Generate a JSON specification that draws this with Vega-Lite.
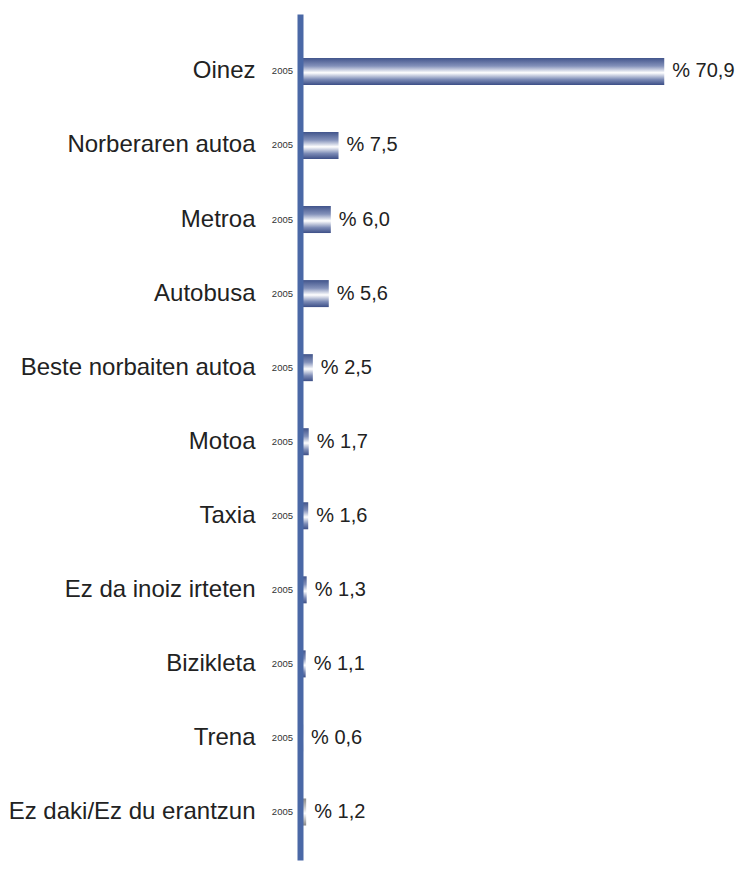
{
  "$schema": "https://vega.github.io/schema/vega-lite/v6.json",
  "autosize": {"type": "none"},
  "padding": {"left": 300, "top": 14, "right": 26, "bottom": 11},
  "width": 411,
  "height": 846,
  "background": "#ffffff",
  "config": {
    "view": {"stroke": null},
    "font": "Liberation Sans",
    "text": {"font": "Liberation Sans"}
  },
  "data": {
    "values": [
      {"cat": "Oinez", "value": 70.9, "label": "% 70,9", "year": "2005"},
      {"cat": "Norberaren autoa", "value": 7.5, "label": "% 7,5", "year": "2005"},
      {"cat": "Metroa", "value": 6.0, "label": "% 6,0", "year": "2005"},
      {"cat": "Autobusa", "value": 5.6, "label": "% 5,6", "year": "2005"},
      {"cat": "Beste norbaiten autoa", "value": 2.5, "label": "% 2,5", "year": "2005"},
      {"cat": "Motoa", "value": 1.7, "label": "% 1,7", "year": "2005"},
      {"cat": "Taxia", "value": 1.6, "label": "% 1,6", "year": "2005"},
      {"cat": "Ez da inoiz irteten", "value": 1.3, "label": "% 1,3", "year": "2005"},
      {"cat": "Bizikleta", "value": 1.1, "label": "% 1,1", "year": "2005"},
      {"cat": "Trena", "value": 0.6, "label": "% 0,6", "year": "2005"},
      {"cat": "Ez daki/Ez du erantzun", "value": 1.2, "label": "% 1,2", "year": "2005"}
    ]
  },
  "encoding": {
    "y": {
      "field": "cat",
      "type": "nominal",
      "sort": null,
      "scale": {"paddingInner": 0.635, "paddingOuter": 0.529, "align": 0.56},
      "axis": {
        "title": null,
        "ticks": false,
        "domain": true,
        "domainColor": "#4a68a6",
        "domainWidth": 6,
        "labelFontSize": 24,
        "labelColor": "#222222",
        "labelFont": "Liberation Sans",
        "labelPadding": 45,
        "labelLimit": 400,
        "grid": false,
        "zindex": 1
      }
    }
  },
  "layer": [
    {
      "mark": {"type": "bar"},
      "encoding": {
        "x": {"field": "value", "type": "quantitative", "scale": {"domain": [0, 80], "nice": false}, "axis": null},
        "fill": {
          "condition": {
            "test": "datum.cat === 'Ez daki/Ez du erantzun'",
            "value": {
              "gradient": "linear", "x1": 0, "y1": 0, "x2": 0, "y2": 1,
              "stops": [
                {"offset": 0, "color": "#8a8a8a"},
                {"offset": 0.3, "color": "#c4c4c4"},
                {"offset": 0.55, "color": "#ffffff"},
                {"offset": 0.8, "color": "#bdbdbd"},
                {"offset": 1, "color": "#858585"}
              ]
            }
          },
          "value": {
            "gradient": "linear", "x1": 0, "y1": 0, "x2": 0, "y2": 1,
            "stops": [
              {"offset": 0, "color": "#41548b"},
              {"offset": 0.3, "color": "#8391ba"},
              {"offset": 0.55, "color": "#ffffff"},
              {"offset": 0.8, "color": "#7b8ab5"},
              {"offset": 1, "color": "#3d4f87"}
            ]
          }
        }
      }
    },
    {
      "mark": {"type": "text", "align": "right", "baseline": "middle", "dx": -7, "fontSize": 9.5, "color": "#333333"},
      "encoding": {
        "x": {"datum": 0, "type": "quantitative"},
        "text": {"field": "year"}
      }
    },
    {
      "mark": {"type": "text", "align": "left", "baseline": "middle", "dx": 8, "fontSize": 20, "color": "#222222"},
      "encoding": {
        "x": {"field": "value", "type": "quantitative"},
        "text": {"field": "label"}
      }
    }
  ]
}
